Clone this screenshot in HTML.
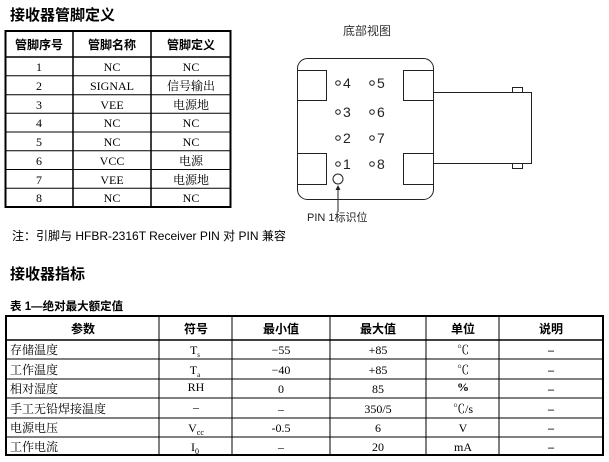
<!DOCTYPE html>
<html><head><meta charset="utf-8"><style>
body{margin:0;background:#fff;width:609px;height:462px;overflow:hidden}
svg{display:block}
.s{font-family:"Liberation Serif","Noto Serif CJK SC",serif;font-size:12px}
.b{font-family:"Liberation Sans","Noto Sans CJK SC",sans-serif;font-weight:bold}
.n{font-family:"Liberation Sans","Noto Sans CJK SC",sans-serif}
</style></head><body>
<svg width="609" height="462" viewBox="0 0 609 462">
<g class="b"><text x="10" y="20" font-size="15">接收器管脚定义</text>
<text x="10" y="279" font-size="15">接收器指标</text>
<text x="10" y="310" font-size="11.5">表 1—绝对最大额定值</text></g>
<!-- top table -->
<g stroke="#000" fill="none">
<rect x="5.5" y="31" width="225" height="176" stroke-width="2"/>
<line x1="5" y1="57" x2="231" y2="57" stroke-width="1.5"/>
<line x1="73" y1="31" x2="73" y2="207" stroke-width="1.5"/>
<line x1="151" y1="31" x2="151" y2="207" stroke-width="1.5"/>
<g stroke-width="1"><line x1="5" y1="75.7" x2="231" y2="75.7"/><line x1="5" y1="94.7" x2="231" y2="94.7"/><line x1="5" y1="113.3" x2="231" y2="113.3"/><line x1="5" y1="132" x2="231" y2="132"/><line x1="5" y1="150.7" x2="231" y2="150.7"/><line x1="5" y1="169.5" x2="231" y2="169.5"/><line x1="5" y1="188.3" x2="231" y2="188.3"/></g>
</g>
<g class="b" font-size="12" text-anchor="middle"><text x="39" y="49">管脚序号</text><text x="112" y="49">管脚名称</text><text x="191" y="49">管脚定义</text></g>
<g class="s" text-anchor="middle">
<text x="39" y="71">1</text><text x="112" y="71">NC</text><text x="191" y="71">NC</text>
<text x="39" y="90">2</text><text x="112" y="90">SIGNAL</text><text x="191" y="90">信号输出</text>
<text x="39" y="109">3</text><text x="112" y="109">VEE</text><text x="191" y="109">电源地</text>
<text x="39" y="127">4</text><text x="112" y="127">NC</text><text x="191" y="127">NC</text>
<text x="39" y="146">5</text><text x="112" y="146">NC</text><text x="191" y="146">NC</text>
<text x="39" y="165">6</text><text x="112" y="165">VCC</text><text x="191" y="165">电源</text>
<text x="39" y="184">7</text><text x="112" y="184">VEE</text><text x="191" y="184">电源地</text>
<text x="39" y="202">8</text><text x="112" y="202">NC</text><text x="191" y="202">NC</text>
</g>
<text class="n" x="12" y="240" font-size="12">注：引脚与 HFBR-2316T Receiver PIN 对 PIN 兼容</text>
<!-- diagram -->
<text class="n" x="367" y="35" font-size="12" text-anchor="middle" fill="#333">底部视图</text>
<g stroke="#222" fill="none" stroke-width="1">
<rect x="297.5" y="58.5" width="136" height="141" rx="10"/>
<rect x="297.5" y="70.5" width="29" height="30"/>
<rect x="297.5" y="153.5" width="29" height="31"/>
<rect x="403.5" y="70.5" width="30" height="30"/>
<rect x="403.5" y="153.5" width="30" height="31"/>
<rect x="433.5" y="92.5" width="98" height="71"/>
<rect x="512.5" y="87.5" width="10" height="5"/>
<rect x="512.5" y="163.5" width="10" height="5"/>
<circle cx="338" cy="83" r="2.3"/><circle cx="372" cy="83" r="2.3"/>
<circle cx="338" cy="112" r="2.3"/><circle cx="372" cy="112" r="2.3"/>
<circle cx="338" cy="138" r="2.3"/><circle cx="372" cy="138" r="2.3"/>
<circle cx="338" cy="164" r="2.3"/><circle cx="372" cy="164" r="2.3"/>
<circle cx="338" cy="179" r="5"/>
<line x1="338" y1="188" x2="338" y2="212"/>
</g>
<path d="M335.5 190 L338 185 L340.5 190Z" fill="#222"/>
<g class="n" font-size="14" fill="#222"><text x="343" y="88">4</text><text x="377" y="88">5</text><text x="343" y="117">3</text><text x="377" y="117">6</text><text x="343" y="143">2</text><text x="377" y="143">7</text><text x="343" y="169">1</text><text x="377" y="169">8</text></g>
<text class="n" x="307" y="221" font-size="11" fill="#222">PIN 1标识位</text>
<!-- bottom table -->
<g stroke="#000" fill="none">
<rect x="6" y="316" width="597" height="139" stroke-width="2"/>
<line x1="6" y1="340" x2="603" y2="340" stroke-width="1.5"/>
<g stroke-width="1"><line x1="6" y1="359" x2="603" y2="359"/><line x1="6" y1="379" x2="603" y2="379"/><line x1="6" y1="398" x2="603" y2="398"/><line x1="6" y1="418" x2="603" y2="418"/><line x1="6" y1="437" x2="603" y2="437"/>
<line x1="159" y1="316" x2="159" y2="455"/><line x1="232" y1="316" x2="232" y2="455"/><line x1="330" y1="316" x2="330" y2="455"/><line x1="426" y1="316" x2="426" y2="455"/><line x1="499" y1="316" x2="499" y2="455"/></g>
</g>
<g class="b" font-size="12" text-anchor="middle"><text x="83" y="333">参数</text><text x="196" y="333">符号</text><text x="281" y="333">最小值</text><text x="378" y="333">最大值</text><text x="463" y="333">单位</text><text x="551" y="333">说明</text></g>
<g class="s" font-size="12">
<text x="10" y="354">存储温度</text><text x="10" y="374">工作温度</text><text x="10" y="393">相对湿度</text><text x="10" y="413">手工无铅焊接温度</text><text x="10" y="432">电源电压</text><text x="10" y="451">工作电流</text>
</g>
<g class="s" font-size="12" text-anchor="middle">
<text x="195" y="354">T<tspan font-size="7" dy="3">s</tspan></text>
<text x="195" y="374">T<tspan font-size="7" dy="3">a</tspan></text>
<text x="196" y="391">RH</text><text x="196" y="411">–</text>
<text x="196" y="432">V<tspan font-size="8" dy="3">cc</tspan></text>
<text x="195" y="451">I<tspan font-size="8" dy="3">0</tspan></text>
<text x="281" y="354">−55</text><text x="281" y="374">−40</text><text x="281" y="393">0</text><text x="281" y="413">–</text><text x="281" y="432">-0.5</text><text x="281" y="451">–</text>
<text x="378" y="354">+85</text><text x="378" y="374">+85</text><text x="378" y="393">85</text><text x="378" y="413">350/5</text><text x="378" y="432">6</text><text x="378" y="451">20</text>
<text x="463" y="354">℃</text><text x="463" y="374">℃</text><text x="463" y="391" font-weight="bold">%</text><text x="463" y="413">℃/s</text><text x="463" y="432">V</text><text x="463" y="451">mA</text>
<g font-weight="bold"><text x="551" y="354">–</text><text x="551" y="374">–</text><text x="551" y="393">–</text><text x="551" y="413">–</text><text x="551" y="432">–</text><text x="551" y="451">–</text></g>
</g>
</svg>
</body></html>
